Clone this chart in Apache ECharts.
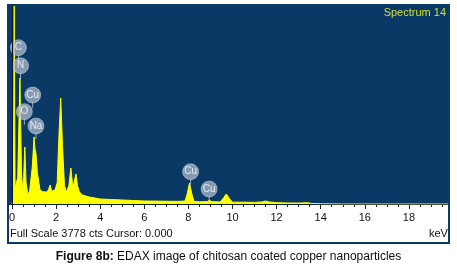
<!DOCTYPE html>
<html>
<head>
<meta charset="utf-8">
<script src="https://cdn.jsdelivr.net/npm/echarts@6/dist/echarts.min.js"></script>
<style>
  html, body { margin: 0; padding: 0; background: #fff; }
  #chart { width: 457px; height: 272px; }
</style>
</head>
<body>
<div id="chart"></div>
<script>
// spectrum (keV / counts)
var kev = [0, 0.06, 0.1, 0.14, 0.2, 0.26, 0.36, 0.43, 0.48, 0.53, 0.58, 0.64, 0.72, 0.8, 0.92, 1.0, 1.04, 1.09, 1.15, 1.27,
  1.4, 1.6, 1.68, 1.73, 1.8, 1.95, 2.05, 2.13, 2.21, 2.29, 2.38, 2.47, 2.58, 2.67, 2.74, 2.79, 2.85, 2.9, 2.97, 3.05,
  3.2, 3.5, 4.0, 4.5, 5.0, 5.5, 6.0, 6.5, 7.0, 7.5, 7.85, 7.95, 8.05, 8.15, 8.25, 8.5, 8.85, 8.95, 9.05, 9.45,
  9.6, 9.72, 9.85, 10.0, 10.5, 11.0, 11.35, 11.5, 11.65, 12.0, 12.5, 13.0, 13.4, 13.6, 14.0, 15.0, 20.0]
var counts = [0, 150, 3778, 300, 264, 500, 2380, 600, 264, 500, 1077, 400, 170, 250, 700, 1266, 1050, 945, 600, 264,
  230, 227, 300, 359, 240, 264, 400, 1300, 2002, 1100, 350, 227, 350, 680, 400, 340, 480, 567, 350, 230,
  170, 132, 94, 85, 76, 66, 57, 55, 52, 50, 55, 200, 395, 200, 50, 42, 45, 76, 45, 40,
  120, 189, 110, 35, 35, 30, 40, 57, 40, 25, 20, 18, 25, 10, 5, 0, 0]

// element markers
var badgeNames = ['C', 'N', 'Cu', 'O', 'Na', 'Cu', 'Cu']
var badgeKev = [0.29, 0.39, 0.94, 0.56, 1.09, 8.10, 8.94]
var badgeCts = [2953, 2612, 2059, 1744, 1473, 610, 283]

var xTicks = [0, 2, 4, 6, 8, 10, 12, 14, 16, 18]
var fullScale = 3778

var font = 'Liberation Sans, Arial, sans-serif'
var myChart = echarts.init(document.getElementById('chart'))

var spectrum = kev.map(function (k, i) { return [k, counts[i]] })
var badges = badgeNames.map(function (n, i) {
  return { name: n, value: [badgeKev[i], badgeCts[i]] }
})

var option = {
  animation: false,
  backgroundColor: '#fff',
  grid: { left: 12, right: 4, top: 4, height: 200 },
  xAxis: {
    type: 'value',
    min: 0,
    max: 20,
    interval: 2,
    axisLine: { show: true, lineStyle: { color: '#0a2440', width: 1 } },
    axisTick: { show: true, inside: false, length: 5, lineStyle: { color: '#222' } },
    minorTick: { show: true, splitNumber: 4, length: 3, lineStyle: { color: '#222' } },
    splitLine: { show: false },
    axisLabel: {
      color: '#111',
      fontSize: 11,
      fontFamily: font,
      margin: 8,
      formatter: function (v) {
        return xTicks.indexOf(v) > -1 ? String(v) : ''
      }
    }
  },
  yAxis: {
    type: 'value',
    min: 0,
    max: fullScale,
    show: false
  },
  series: [
    {
      name: 'Spectrum 14',
      type: 'line',
      data: spectrum,
      symbol: 'none',
      clip: true,
      lineStyle: { color: '#ffff00', width: 1 },
      areaStyle: { color: '#ffff00', opacity: 1 },
      markLine: {
        silent: true,
        symbol: 'none',
        label: { show: false },
        lineStyle: { color: '#051a30', width: 1, type: 'solid' },
        data: [{ xAxis: 0 }]
      },
      z: 2
    },
    {
      // stems of the badges
      type: 'scatter',
      data: badges,
      symbol: 'rect',
      symbolSize: [1, 6],
      symbolOffset: [0, 10],
      itemStyle: { color: '#b9c4d3' },
      silent: true,
      z: 3
    },
    {
      type: 'scatter',
      data: badges,
      symbol: 'circle',
      symbolSize: 16,
      itemStyle: { color: 'rgba(178,190,208,0.92)', borderColor: 'rgba(210,218,230,0.6)', borderWidth: 1 },
      label: {
        show: true,
        position: 'inside',
        formatter: '{b}',
        color: '#fff',
        fontSize: 10,
        fontFamily: font
      },
      silent: true,
      z: 4
    }
  ],
  graphic: [
    // blue plot background
    {
      type: 'rect',
      z: -1,
      shape: { x: 7, y: 4, width: 446, height: 200 },
      style: { fill: '#0a3965' }
    },
    // white cover on the right of the frame
    {
      type: 'rect',
      z: 50,
      shape: { x: 450, y: 0, width: 7, height: 272 },
      style: { fill: '#fff' }
    },
    // axis line continued to the left edge
    {
      type: 'line',
      z: 50,
      shape: { x1: 7, y1: 204.5, x2: 12, y2: 204.5 },
      style: { stroke: '#0a2440', lineWidth: 1 }
    },
    // frame
    {
      type: 'rect',
      z: 60,
      shape: { x: 8, y: 5, width: 441, height: 238 },
      style: { fill: 'none', stroke: '#0c3864', lineWidth: 2 }
    },
    {
      type: 'text',
      z: 60,
      right: 11,
      top: 7,
      style: { text: 'Spectrum 14', fill: '#d4df3c', font: '11px ' + font }
    },
    {
      type: 'text',
      z: 60,
      left: 10,
      top: 228,
      style: { text: 'Full Scale ' + fullScale + ' cts Cursor: 0.000', fill: '#111', font: '11px ' + font }
    },
    {
      type: 'text',
      z: 60,
      left: 429,
      top: 228,
      style: { text: 'keV', fill: '#111', font: '11px ' + font }
    },
    {
      type: 'text',
      z: 60,
      left: 'center',
      top: 251,
      style: {
        text: '{b|Figure 8b:} EDAX image of chitosan coated copper nanoparticles',
        fill: '#111',
        font: '12px ' + font,
        rich: {
          b: { fontWeight: 'bold', fontSize: 12, fontFamily: font, fill: '#111' }
        }
      }
    }
  ]
}

myChart.setOption(option)
</script>
</body>
</html>
